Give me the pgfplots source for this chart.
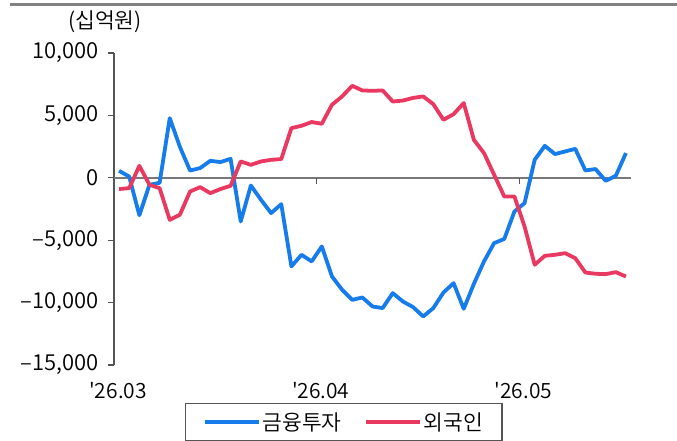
\documentclass[border=0pt]{standalone}
\usepackage{pgfplots}
\pgfplotsset{compat=1.18}
\usepackage{fontspec}
\setmainfont{Noto Sans CJK KR DemiLight}
\definecolor{cblue}{RGB}{22,124,236}
\definecolor{cred}{RGB}{233,57,96}
\definecolor{axgray}{RGB}{85,85,85}
\definecolor{zgray}{RGB}{120,120,120}
\definecolor{topgray}{RGB}{128,128,128}
\pgfplotstableread{
i blue red
0 560 -900
1 100 -830
2 -3000 960
3 -560 -560
4 -400 -830
5 4780 -3370
6 2480 -2960
7 580 -1100
8 780 -750
9 1360 -1230
10 1260 -900
11 1520 -640
12 -3500 1310
13 -620 1040
14 -1760 1310
15 -2830 1440
16 -2110 1500
17 -7100 3980
18 -6170 4170
19 -6700 4470
20 -5500 4330
21 -7900 5850
22 -8970 6520
23 -9780 7370
24 -9590 7000
25 -10310 6970
26 -10440 7000
27 -9240 6110
28 -9910 6190
29 -10360 6400
30 -11110 6520
31 -10440 5900
32 -9190 4650
33 -8440 5100
34 -10500 5990
35 -8500 3040
36 -6700 1980
37 -5230 240
38 -4900 -1500
39 -2700 -1500
40 -2030 -3900
41 1440 -6970
42 2560 -6250
43 1900 -6170
44 2110 -6040
45 2320 -6440
46 590 -7590
47 700 -7690
48 -240 -7720
49 160 -7560
50 1980 -7910
}\datatable
\begin{document}
\begin{tikzpicture}
\path[use as bounding box] (0pt,0pt) rectangle (677pt,441pt);
\draw[line width=3pt, topgray] (10pt,436pt) -- (677pt,436pt);
\node[font=\fontsize{21.5}{24}\selectfont, anchor=center] at (105pt,419pt) {(십억원)};
\begin{axis}[
  at={(114pt,76pt)}, anchor=south west,
  scale only axis, width=517pt, height=312pt,
  xmin=-0.5, xmax=50.5, ymin=-15000, ymax=10000,
  scaled y ticks=false,
  axis lines=left, axis line style={-},
  x axis line style={draw=none},
  y axis line style={axgray, line width=1.2pt},
  xtick={-0.5,19.5,39.5},
  xticklabels={\textquotesingle26.03,\textquotesingle26.04,\textquotesingle26.05},
  xtick style={draw=none},
  xticklabel style={font=\fontsize{21}{24}\selectfont, yshift=-8pt, xshift=4pt},
  ytick={-15000,-10000,-5000,0,5000,10000},
  yticklabels={{–15,000},{–10,000},{–5,000},{0},{5,000},{10,000}},
  tick align=outside, major tick length=6pt,
  ytick style={axgray, line width=1.2pt},
  yticklabel style={font=\fontsize{22}{24}\selectfont, xshift=-6pt},
  legend style={at={(0.1373,-0.1218)}, anchor=north west,
    draw=axgray, line width=1.2pt,
    font=\fontsize{21.5}{24}\selectfont,
    inner xsep=17pt, inner ysep=7pt,
    /tikz/every even column/.append style={column sep=20pt}},
  legend columns=2,
  legend image code/.code={\draw[#1,line width=4pt] (0pt,0pt) -- (54pt,0pt);},
  clip=false,
]
\draw[zgray, line width=1.6pt] (axis cs:-0.5,0) -- (axis cs:50.5,0);
\draw[axgray, line width=1.2pt] (axis cs:19.5,0) -- ++(0pt,-6pt);
\draw[axgray, line width=1.2pt] (axis cs:39.5,0) -- ++(0pt,-6pt);
\addplot[cblue, line width=3.8pt, line join=round] table[x=i, y=blue] {\datatable};
\addlegendentry{금융투자}
\addplot[cred, line width=3.8pt, line join=round] table[x=i, y=red] {\datatable};
\addlegendentry{외국인}
\end{axis}
\end{tikzpicture}
\end{document}
